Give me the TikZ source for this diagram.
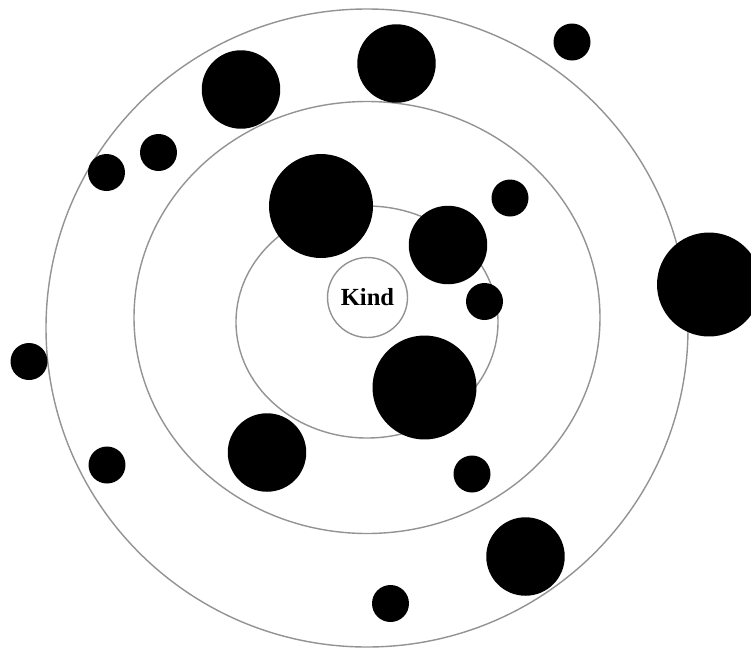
\documentclass[tikz,border=0pt]{standalone}
\usepackage{fontspec}
\setmainfont{Liberation Serif}

\begin{document}
\begin{tikzpicture}[x=0.02cm, y=-0.02cm,
  ring/.style={draw=gray!85, line width=0.8pt},
  dotS/.style={circle, fill=black, inner sep=0pt, minimum size=0.74cm},
  dotM/.style={circle, fill=black, inner sep=0pt, minimum size=1.57cm},
  dotL/.style={circle, fill=black, inner sep=0pt, minimum size=2.08cm}]
  \clip (0,0) rectangle (751,650);

  % Rings
  \draw[ring] (367,328) ellipse [x radius=321, y radius=319];
  \draw[ring] (367,317.5) ellipse [x radius=233, y radius=216];
  \draw[ring] (367,322) ellipse [x radius=131, y radius=116];

  % Centre
  \node[ring, circle, minimum size=1.6cm, inner sep=0pt,
    font=\fontsize{14}{16}\selectfont\bfseries] (kind) at (367.5,297.5) {Kind};

  % Large dots
  \node[dotL] (upper) at (321,206) {};
  \node[dotL] (lower) at (424.5,387.5) {};
  \node[dotL] (east) at (709,284.5) {};

  % Medium dots
  \node[dotM] (topleft) at (241,89.5) {};
  \node[dotM] (top) at (396.5,63.5) {};
  \node[dotM] (nearkind) at (448,245) {};
  \node[dotM] (southwest) at (267,452.5) {};
  \node[dotM] (southeast) at (525.5,556.5) {};

  % Small dots
  \node[dotS] (northeast) at (572,42) {};
  \node[dotS] (westa) at (106.5,172.5) {};
  \node[dotS] (westb) at (158.5,152.5) {};
  \node[dotS] (innera) at (510,198) {};
  \node[dotS] (innerb) at (484.5,301.5) {};
  \node[dotS] (innerc) at (472,474) {};
  \node[dotS] (south) at (390.5,603.5) {};
  \node[dotS] (westc) at (107,465) {};
  \node[dotS] (west) at (29,361.5) {};
\end{tikzpicture}
\end{document}
